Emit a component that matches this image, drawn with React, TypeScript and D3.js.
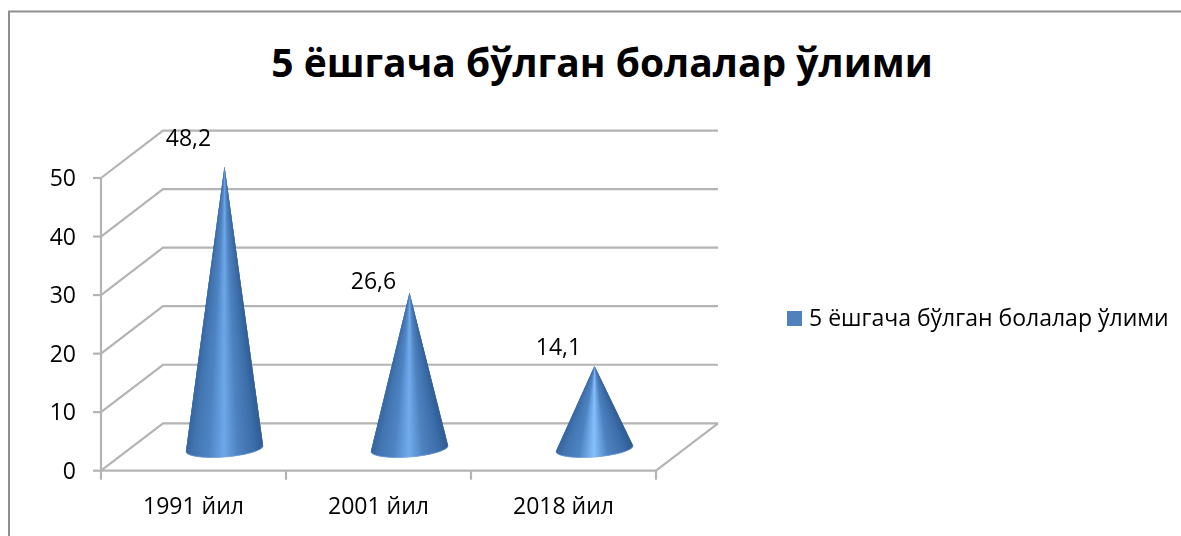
import * as d3 from 'd3';

const categories = ['1991 йил', '2001 йил', '2018 йил'];
const values = [48.2, 26.6, 14.1];
const valueLabels = ['48,2', '26,6', '14,1'];
const yTicks = [0, 10, 20, 30, 40, 50];
const seriesName = '5 ёшгача бўлган болалар ўлими';

const font = "'Open Sans', sans-serif";
const gridColor = '#b4b4b4';

// front wall of the plot and how far the 3d floor goes back
const x = d3.scaleBand().domain(categories).range([101, 656]);
const y = d3.scaleLinear().domain([0, 50]).range([470.7, 178]);
const depth = { dx: 62, dy: -47.4 };

// label nudges from the cone tip, the original has them placed by hand
const labelShift = [-20, -4, -11];
// brightest stop of each cone's shine
const shine = ['#6ea8ea', '#72acee', '#86c0fd'];

const rx = 38.7;
const ry = 8.5;
const tilt = (-4.5 * Math.PI) / 180;

// point on the tilted base ellipse, t runs along its front half
function basePoint(cx: number, cy: number, t: number): [number, number] {
  const ex = rx * Math.cos(t);
  const ey = ry * Math.sin(t);
  return [cx + ex * Math.cos(tilt) - ey * Math.sin(tilt), cy + ex * Math.sin(tilt) + ey * Math.cos(tilt)];
}

function Cone({ cx, cy, tip, highlight }: { cx: number; cy: number; tip: number; highlight: string }) {
  const steps = 120;
  const ts = d3.range(steps + 1).map((i) => (i / steps) * Math.PI);
  const shade = d3
    .scaleLinear<string>()
    .domain([0, 0.1, 0.3, 0.5, 0.68, 0.9, 1])
    .range(['#36669f', '#4275b1', '#4f84c3', highlight, '#4f83c0', '#3b6da8', '#2f5c94']);
  const line = d3.line();
  return (
    <g>
      {ts.slice(0, -1).map((a, i) => {
        const pa = basePoint(cx, cy, a);
        const pb = basePoint(cx, cy, ts[Math.min(i + 3, steps)]);
        const color = shade((pa[0] - (cx - rx)) / (2 * rx));
        // each wedge runs under the next ones so no seams show
        return <path key={a} d={`${line([[cx, tip], pa, pb])}Z`} fill={color} />;
      })}
      <path d={line(ts.map((t) => basePoint(cx, cy, t)))!} fill="none" stroke="#7fa9dc" strokeWidth={1} opacity={0.7} />
    </g>
  );
}

export default function App() {
  const [x0, x1] = x.range();
  const floor = y(0);
  const coneY = (v: number) => y(v) + depth.dy / 2 + 1.5;

  return (
    <svg
      width={1181}
      height={536}
      style={{ position: 'absolute', left: 0, top: 0, background: '#fff' }}
      fontFamily={font}
    >
      <defs>
        <filter id="soft" x="-5%" y="-5%" width="110%" height="110%">
          <feGaussianBlur stdDeviation="0.6" />
        </filter>
      </defs>

      {/* only top and left of the chart border are in the shot */}
      <path d="M1181,11.5H9V536" fill="none" stroke="#8f8f8f" strokeWidth={2} />

      <text x={602} y={77} textAnchor="middle" fontSize={39} fontWeight={700} fill="#000">
        {seriesName}
      </text>

      <g filter="url(#soft)" fill="none" stroke={gridColor} strokeWidth={2.2}>
        {yTicks.map((t) => (
          <path key={t} d={`M${x0},${y(t)}L${x0 + depth.dx},${y(t) + depth.dy}H${x1 + depth.dx}`} />
        ))}
        <path d={`M${x1 + depth.dx},${floor + depth.dy}L${x1},${floor}`} />
        <path d={`M${x0},${y(50)}V${floor + 9}`} />
        <path d={`M${x0},${floor}H${x1}`} />
        {yTicks.map((t) => (
          <path key={t} d={`M${x0 - 8},${y(t)}H${x0}`} />
        ))}
        {categories.map((c) => (
          <path key={c} d={`M${x(c)! + x.bandwidth()},${floor}v9`} />
        ))}
      </g>

      <g filter="url(#soft)">
        {categories.map((c, i) => (
          <Cone
            key={c}
            cx={x(c)! + x.bandwidth() / 2 + depth.dx / 2}
            cy={coneY(0)}
            tip={coneY(values[i])}
            highlight={shine[i]}
          />
        ))}
      </g>

      <g fontSize={23} fill="#000" textAnchor="end">
        {yTicks.map((t) => (
          <text key={t} x={76} y={y(t) + 8}>
            {t}
          </text>
        ))}
      </g>
      <g fontSize={23} fill="#000" textAnchor="middle">
        {categories.map((c) => (
          <text key={c} x={x(c)! + x.bandwidth() / 2} y={514}>
            {c}
          </text>
        ))}
        {categories.map((c, i) => (
          <text key={c} x={x(c)! + x.bandwidth() / 2 - 5} y={coneY(values[i]) + labelShift[i]}>
            {valueLabels[i]}
          </text>
        ))}
      </g>

      <rect x={787} y={311} width={15} height={15} fill="#4f81bd" />
      <text x={809} y={326} fontSize={23} fill="#000">
        {seriesName}
      </text>
    </svg>
  );
}
